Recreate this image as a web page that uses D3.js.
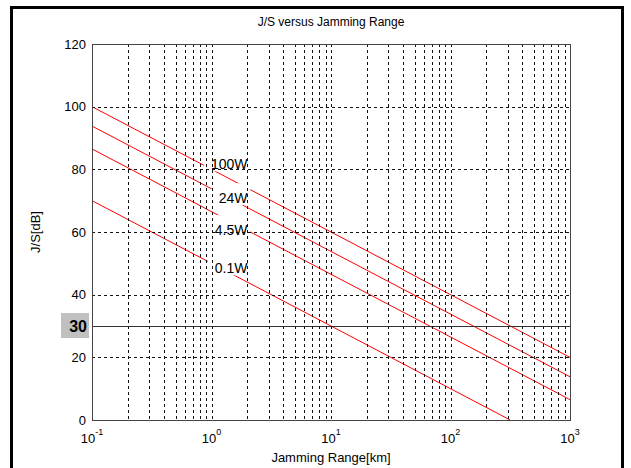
<!DOCTYPE html>
<html>
<head>
<meta charset="utf-8">
<script src="https://cdn.jsdelivr.net/npm/d3@7/dist/d3.min.js"></script>
<style>
  body { margin: 0; background: #fff; }
  text { font-family: "Liberation Sans", Arial, sans-serif; fill: #000; }
</style>
</head>
<body>
<script>
// jamming range [km] and J/S [dB] (straight lines on log axis)
var seriesNames = ["100W", "24W", "4.5W", "0.1W"];
var rangeKm = [[0.1, 1000], [0.1, 1000], [0.1, 1000], [0.1, 316]];
var jsDb = [[100, 20], [93.8, 13.8], [86.5, 6.5], [70, 0]];
// where each power label sits (km, dB), right end / baseline
var labelKm = [2, 2, 2, 2];
var labelDb = [80, 69.2, 59, 46.8];

var yTicks = [0, 20, 40, 60, 80, 100, 120];
var xTickExp = [-1, 0, 1, 2, 3];
var thresholdDb = 30;

var width = 631, height = 468;
var margin = {left: 92, right: 61, top: 44, bottom: 48};

var svg = d3.select("body").append("svg").attr("width", width).attr("height", height);

// outer frame
svg.append("rect").attr("x", 11.5).attr("y", 7.5).attr("width", 611).attr("height", 480)
    .attr("fill", "none").attr("stroke", "#000").attr("stroke-width", 3);

var x = d3.scaleLog().domain([0.1, 1000]).range([margin.left, width - margin.right]);
var y = d3.scaleLinear().domain([0, 120]).range([height - margin.bottom, margin.top]);

svg.append("text").attr("x", (x.range()[0] + x.range()[1]) / 2).attr("y", 26)
    .attr("text-anchor", "middle").style("font-size", "12px").text("J/S versus Jamming Range");

// red lines
var line = d3.line().x(function(d){ return x(d[0]); }).y(function(d){ return y(d[1]); });
seriesNames.forEach(function(name, i) {
    var pts = rangeKm[i].map(function(r, j){ return [r, jsDb[i][j]]; });
    svg.append("path").datum(pts).attr("d", line)
        .attr("fill", "none").attr("stroke", "#ff0000").attr("stroke-width", 1);
});

// threshold line at 30 dB
svg.append("line").attr("x1", x.range()[0]).attr("x2", x.range()[1])
    .attr("y1", Math.round(y(thresholdDb)) + 0.5).attr("y2", Math.round(y(thresholdDb)) + 0.5)
    .attr("stroke", "#333").attr("stroke-width", 1);

// labels with white background (they cut the red lines)
seriesNames.forEach(function(name, i) {
    var g = svg.append("g");
    var bg = g.append("rect").attr("fill", "#fff");
    var t = g.append("text").attr("x", x(labelKm[i])).attr("y", y(labelDb[i]))
        .attr("text-anchor", "end").style("font-size", "14px").text(name);
    var bb = t.node().getBBox();
    var base = y(labelDb[i]);
    bg.attr("x", bb.x - 7).attr("width", bb.width + 9)
      .attr("y", base - 20).attr("height", 22);
});

// grid on top (dotted)
var xGrid = [];
[0.1, 1, 10, 100].forEach(function(d) {
    for (var k = 1; k <= 9; k++) { if (!(d === 0.1 && k === 1)) xGrid.push(d * k); }
});
svg.append("g").selectAll("line").data(xGrid).enter().append("line")
    .attr("x1", function(d){ return Math.round(x(d)) + 0.5; })
    .attr("x2", function(d){ return Math.round(x(d)) + 0.5; })
    .attr("y1", y(120)).attr("y2", y(0))
    .attr("stroke", "#111").attr("stroke-dasharray", "3,3");
svg.append("g").selectAll("line").data([20, 40, 60, 80, 100]).enter().append("line")
    .attr("x1", x.range()[0]).attr("x2", x.range()[1])
    .attr("y1", function(d){ return Math.round(y(d)) + 0.5; })
    .attr("y2", function(d){ return Math.round(y(d)) + 0.5; })
    .attr("stroke", "#111").attr("stroke-dasharray", "3,3");

// axes box
svg.append("rect").attr("x", Math.round(x.range()[0]) + 0.5).attr("y", Math.round(y(120)) + 0.5)
    .attr("width", Math.round(x.range()[1] - x.range()[0]))
    .attr("height", Math.round(y(0) - y(120)))
    .attr("fill", "none").attr("stroke", "#444");

// y axis labels
var yAxis = d3.axisLeft(y).tickValues(yTicks).tickSize(0).tickPadding(6);
var yg = svg.append("g").attr("transform", "translate(" + x.range()[0] + ",0)").call(yAxis);
yg.select(".domain").remove();
yg.selectAll("text").style("font-size", "13px").style("font-family", "Liberation Sans, Arial, sans-serif");

// x axis labels 10^n
var xt = svg.append("g").selectAll("text").data(xTickExp).enter().append("text")
    .attr("x", function(d){ return x(Math.pow(10, d)); }).attr("y", 443)
    .attr("text-anchor", "middle").style("font-size", "13px");
xt.append("tspan").text("10");
xt.append("tspan").attr("dy", -8).style("font-size", "9px").text(function(d){ return d; });

// highlighted 30 label
svg.append("rect").attr("x", 61).attr("y", y(thresholdDb) - 13).attr("width", 28).attr("height", 25)
    .attr("fill", "#c0c0c0");
svg.append("text").attr("x", 87).attr("y", y(thresholdDb) + 6).attr("text-anchor", "end")
    .style("font-size", "16px").style("font-weight", "bold").text(thresholdDb);

// axis titles
svg.append("text").attr("x", (x.range()[0] + x.range()[1]) / 2).attr("y", 462)
    .attr("text-anchor", "middle").style("font-size", "13px").text("Jamming Range[km]");
svg.append("text").attr("transform", "translate(40," + ((y(0) + y(120)) / 2) + ") rotate(-90)")
    .attr("text-anchor", "middle").style("font-size", "13px").text("J/S[dB]");
</script>
</body>
</html>
